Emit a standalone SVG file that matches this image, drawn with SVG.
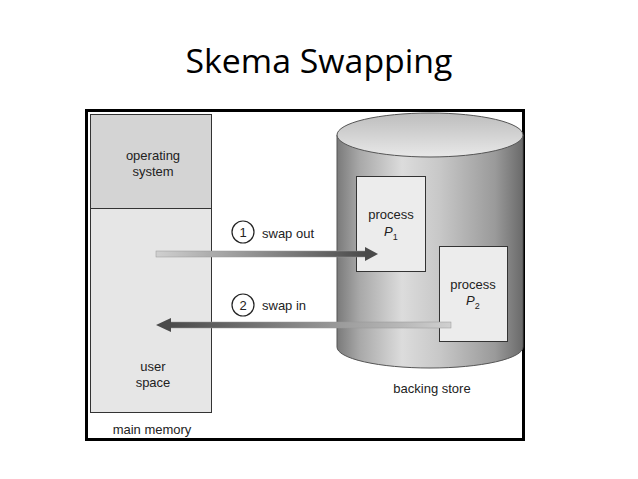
<svg xmlns="http://www.w3.org/2000/svg" width="638" height="479" viewBox="0 0 638 479">
<style>
.t{font-family:"Liberation Sans",Arial,sans-serif;font-size:13px;fill:#222}
.c{text-anchor:middle}
.box{stroke:#333;stroke-width:1}
</style>
<defs>
<linearGradient id="cyl" x1="0" x2="1" y1="0" y2="0">
<stop offset="0" stop-color="#7a7a7a"/>
<stop offset="0.12" stop-color="#a8a8a8"/>
<stop offset="0.35" stop-color="#dcdcdc"/>
<stop offset="0.55" stop-color="#c8c8c8"/>
<stop offset="0.85" stop-color="#9a9a9a"/>
<stop offset="1" stop-color="#6a6a6a"/>
</linearGradient>
<linearGradient id="top" x1="0" x2="0" y1="0" y2="1">
<stop offset="0" stop-color="#bdbdbd"/>
<stop offset="1" stop-color="#e8e8e8"/>
</linearGradient>
<linearGradient id="out" x1="0" x2="1" y1="0" y2="0">
<stop offset="0" stop-color="#d0d0d0"/>
<stop offset="1" stop-color="#4a4a4a"/>
</linearGradient>
<linearGradient id="in" x1="0" x2="1" y1="0" y2="0">
<stop offset="0" stop-color="#4a4a4a"/>
<stop offset="1" stop-color="#d0d0d0"/>
</linearGradient>
</defs>
<rect width="638" height="479" fill="#fff"/>
<text x="319" y="73" text-anchor="middle" font-family="'Open Sans','Noto Sans',sans-serif" font-size="32" textLength="267" lengthAdjust="spacingAndGlyphs" fill="#000">Skema Swapping</text>
<rect x="86.5" y="110.5" width="437" height="329" fill="#fff" stroke="#000" stroke-width="3"/>
<g id="main-memory">
<rect class="box" x="90.5" y="114.5" width="121" height="94" fill="#d4d4d4"/>
<rect class="box" x="90.5" y="208.5" width="121" height="204" fill="#e6e6e6"/>
<text class="t c" x="153" y="160">operating</text>
<text class="t c" x="153" y="176">system</text>
<text class="t c" x="153" y="371">user</text>
<text class="t c" x="153" y="387">space</text>
<text class="t c" x="152" y="434">main memory</text>
</g>
<g id="backing-store">
<path d="M337,135 V347 A93,21 0 0 0 523,347 V135 Z" fill="url(#cyl)" stroke="#555" stroke-width="1"/>
<ellipse cx="430" cy="135" rx="93" ry="22" fill="url(#top)" stroke="#555" stroke-width="1"/>
<text class="t c" x="432" y="393">backing store</text>
</g>
<g id="process-p1">
<rect class="box" x="356.5" y="176.5" width="69" height="95" fill="#ececec"/>
<text class="t c" x="391" y="219">process</text>
<text class="t" x="384" y="236" font-style="italic">P<tspan font-size="9" dy="4" font-style="normal">1</tspan></text>
</g>
<g id="process-p2">
<rect class="box" x="439.5" y="246.5" width="68" height="95" fill="#ececec"/>
<text class="t c" x="473" y="289">process</text>
<text class="t" x="466" y="305" font-style="italic">P<tspan font-size="9" dy="4" font-style="normal">2</tspan></text>
</g>
<g id="connectors">
<rect x="156" y="251" width="210" height="6" fill="url(#out)" stroke="#999" stroke-width="0.5"/>
<polygon points="365,247 378,254 365,261" fill="#4a4a4a"/>
<rect x="170" y="322" width="281" height="6" fill="url(#in)" stroke="#999" stroke-width="0.5"/>
<polygon points="171,318 156,325 171,332" fill="#4a4a4a"/>
<circle cx="243" cy="232" r="11" fill="#fff" stroke="#222" stroke-width="1.2"/>
<text class="t c" x="243" y="237">1</text>
<text class="t" x="262" y="238">swap out</text>
<circle cx="243" cy="305" r="11" fill="#fff" stroke="#222" stroke-width="1.2"/>
<text class="t c" x="243" y="310">2</text>
<text class="t" x="262" y="310">swap in</text>
</g>
</svg>
